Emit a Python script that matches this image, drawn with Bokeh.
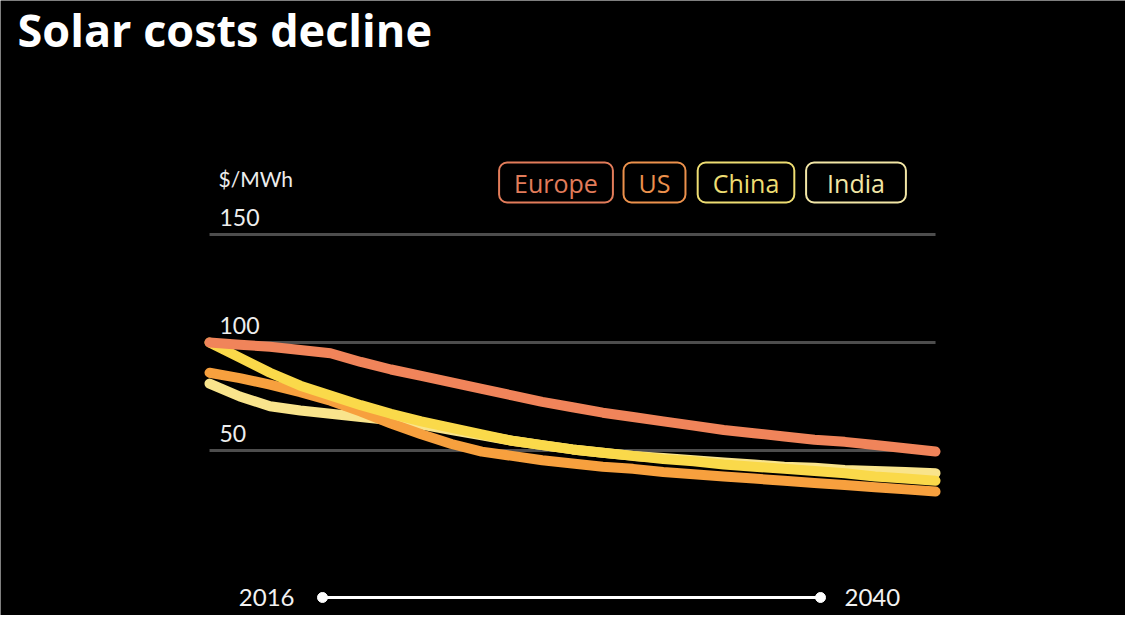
from bokeh.plotting import figure
from bokeh.models import Range1d, Label
from bokeh.core.properties import value
from bokeh.embed import file_html
from bokeh.resources import INLINE

# ---------------- data ----------------
years = list(range(2016, 2041))
europe = [100, 99, 98, 96.5, 95, 91, 87.5, 84.5, 81.5, 78.5, 75.5, 72.5, 70, 67.5, 65.5,
          63.5, 61.5, 59.5, 58, 56.5, 55, 54, 52.5, 51, 49.5]
us = [86, 83.5, 80.5, 77, 73, 68, 62.5, 57.5, 53, 49.5, 47.5, 45.5, 44, 42.5, 41.5,
      40, 39, 38, 37, 36, 35, 34, 33, 32, 31]
china = [100, 93, 86, 80, 75.5, 71, 67, 63.5, 60.5, 57.5, 54.5, 52.5, 50.5, 49, 47.5,
         46, 45, 43.5, 42.5, 41.5, 40.5, 39.5, 38, 37, 36]
india = [81, 75, 70.5, 68.5, 67, 65.5, 64, 62, 59.5, 57, 54.5, 52.5, 50.5, 49, 47.5,
         46.5, 45.5, 44.5, 43.5, 42.5, 42, 41, 40.5, 40, 39.5]

series_names = ["Europe", "US", "China", "India"]
series_values = [europe, us, china, india]
line_colors = ["#F0845A", "#F7A03E", "#FAD94A", "#F9E48C"]
legend_colors = ["#E27C5A", "#EC914C", "#EEDD72", "#F2E6A6"]
y_ticks = [50, 100, 150]
unit_label = "$/MWh"
title_text = "Solar costs decline"
start_year, end_year = 2016, 2040

# ---------------- figure ----------------
W, H = 1125, 615
X0, X1 = 2009.09, 2046.28
Y0, Y1 = -26.39, 258.33

p = figure(width=W, height=H, x_range=Range1d(X0, X1), y_range=Range1d(Y0, Y1),
           output_backend="svg", toolbar_location=None,
           x_axis_location=None, y_axis_location=None,
           min_border=0, min_border_left=0, min_border_right=0,
           min_border_top=0, min_border_bottom=0,
           background_fill_color="black", border_fill_color="black")
p.grid.visible = False
p.outline_line_color = None


def dx(px):
    return X0 + (px - 8) / W * (X1 - X0)


def dy(py):
    return Y1 - (py - 8) / H * (Y1 - Y0)


# gridlines
p.segment(x0=[start_year] * len(y_ticks), x1=[end_year] * len(y_ticks),
          y0=y_ticks, y1=y_ticks, line_color="#4D4D4D", line_width=3)

# tick labels
p.text(x=[start_year] * len(y_ticks), y=y_ticks, text=[str(t) for t in y_ticks],
       x_offset=10, y_offset=-17, text_baseline="middle", text_align="left",
       text_font=value("Lato"), text_font_size="23px", text_color="#EDEDED")

# lines (draw order: India, US, China, Europe)
for idx in [3, 1, 2, 0]:
    p.line(years, series_values[idx], line_color=line_colors[idx], line_width=10,
           line_cap="round", line_join="round")

# title
p.add_layout(Label(x=17, y=615 - 29, x_units="screen", y_units="screen",
                   text=title_text, text_font="Open Sans", text_font_style="bold",
                   text_font_size="45px", text_color="white",
                   text_baseline="middle", text_align="left"))

# unit label
p.add_layout(Label(x=218, y=615 - 178, x_units="screen", y_units="screen",
                   text=unit_label, text_font="Lato", text_font_size="21px",
                   text_color="#EDEDED", text_baseline="middle", text_align="left"))

# legend boxes
box_centers = [563.5, 662, 753.5, 863.5]
box_pads = [15, 15, 15, 21]
for name, c, cx, pad in zip(series_names, legend_colors, box_centers, box_pads):
    p.add_layout(Label(x=cx - 8, y=615 - 182, x_units="screen", y_units="screen",
                       text=name, text_font="Open Sans", text_font_size="25px",
                       text_color=c, text_align="center", text_baseline="middle",
                       border_line_color=c, border_line_width=2, border_radius=8,
                       padding=(pad, 3)))

# timeline at bottom
p.line([dx(330), dx(828)], [dy(605), dy(605)], line_color="white", line_width=3)
p.scatter([dx(330), dx(828)], [dy(605), dy(605)], size=10, color="white")
p.add_layout(Label(x=302 - 8, y=615 - 597, x_units="screen", y_units="screen",
                   text=str(start_year), text_font="Lato", text_font_size="24px",
                   text_color="#F2F2F2", text_align="right", text_baseline="middle"))
p.add_layout(Label(x=852 - 8, y=615 - 597, x_units="screen", y_units="screen",
                   text=str(end_year), text_font="Lato", text_font_size="24px",
                   text_color="#F2F2F2", text_align="left", text_baseline="middle"))

open("out.html", "w").write(file_html(p, INLINE))
